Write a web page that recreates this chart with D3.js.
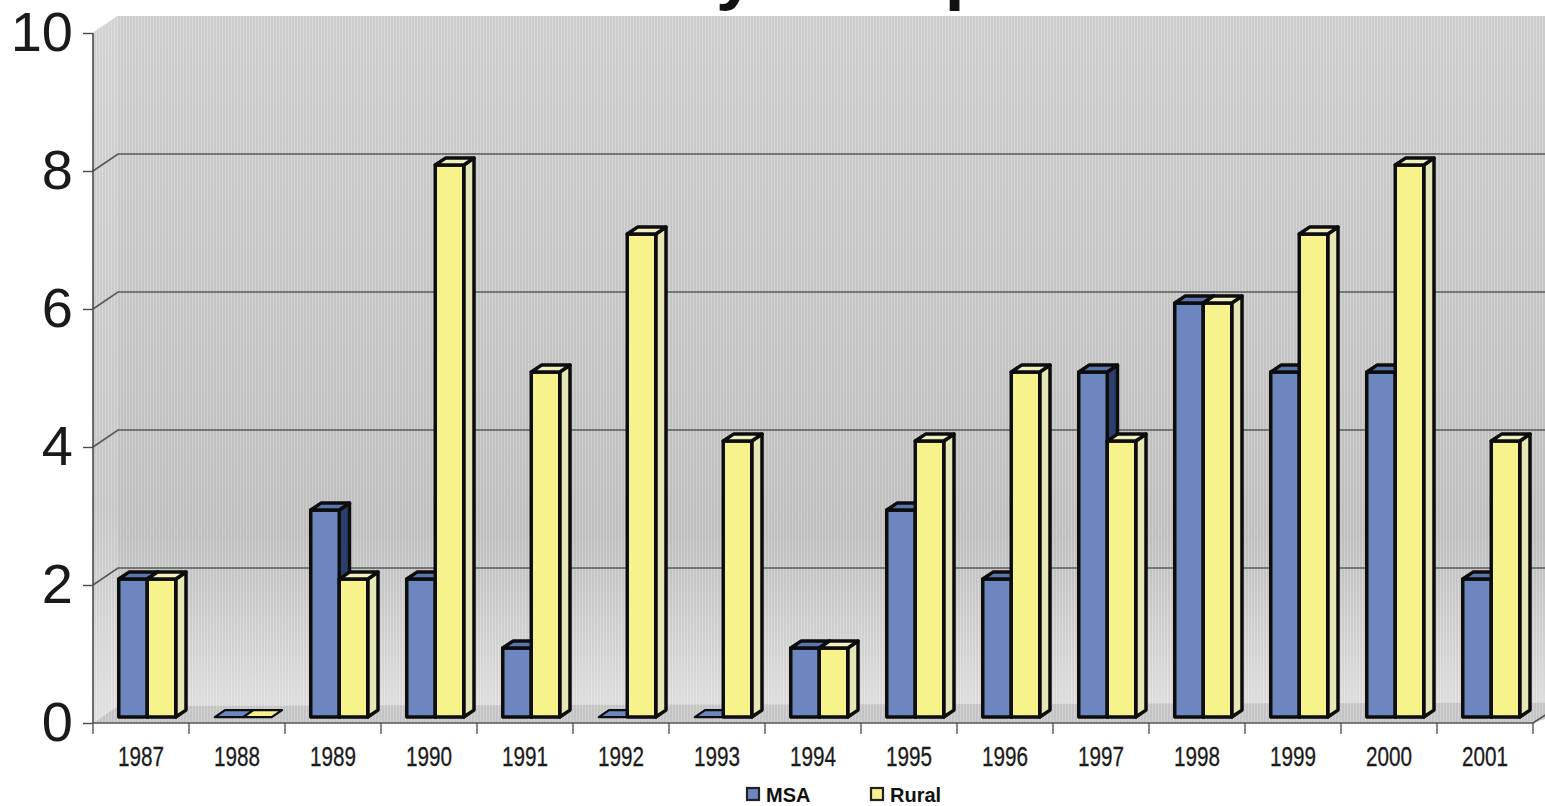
<!DOCTYPE html>
<html>
<head>
<meta charset="utf-8">
<script src="https://cdn.jsdelivr.net/npm/d3@7"></script>
<style>
  html, body { margin: 0; padding: 0; background: #ffffff; }
  svg { display: block; font-family: "Liberation Sans", Arial, sans-serif; }
</style>
</head>
<body>
<svg id="chart" width="1545" height="806"></svg>
<script>
// ---- data ----
const years = ["1987","1988","1989","1990","1991","1992","1993","1994","1995","1996","1997","1998","1999","2000","2001"];
const seriesNames = ["MSA", "Rural"];
const msaValues   = [2, 0, 3, 2, 1, 0, 0, 1, 3, 2, 5, 6, 5, 5, 2];
const ruralValues = [2, 0, 2, 8, 5, 7, 4, 1, 4, 5, 4, 6, 7, 8, 4];
const yTicks = [0, 2, 4, 6, 8, 10];
const chartTitle = "Fatalities by Group";

// ---- layout ----
const W = 1545, H = 806;
const plotL = 93, plotR = 1533, plotB = 723, plotT = 33;
const DX = 25, DY = -17;           // oblique depth of the plot box
const barT0 = 0.35, barT1 = 0.76;  // bar depth within the box

const svg = d3.select("#chart");

const x = d3.scaleBand().domain(years).range([plotL, plotR]).padding(0);
const x1 = d3.scaleBand().domain(seriesNames).range([17, 74]).padding(0);
const y = d3.scaleLinear().domain([0, 10]).range([plotB, plotT]);

// project a front-plane point (xf, value) back by depth fraction t
const P = (xf, v, t) => [xf + DX * t, y(v) + DY * t];
const poly = pts => "M" + pts.map(p => p[0].toFixed(2) + "," + p[1].toFixed(2)).join("L") + "Z";

const defs = svg.append("defs");
const wallGrad = defs.append("linearGradient").attr("id", "wallGrad")
  .attr("x1", 0).attr("y1", 0).attr("x2", 0).attr("y2", 1);
[[0, "#cdcdcd"], [0.45, "#c4c4c4"], [0.75, "#bebebe"], [1, "#dcdcdc"]]
  .forEach(([o, c]) => wallGrad.append("stop").attr("offset", o).attr("stop-color", c));

const sideGrad = defs.append("linearGradient").attr("id", "sideGrad")
  .attr("x1", 0).attr("y1", 0).attr("x2", 0).attr("y2", 1);
[[0, "#d2d2d2"], [0.7, "#c6c6c6"], [1, "#e0e0e0"]]
  .forEach(([o, c]) => sideGrad.append("stop").attr("offset", o).attr("stop-color", c));

// fine vertical grain over the walls
const grain = defs.append("pattern").attr("id", "grain")
  .attr("width", 3).attr("height", 6).attr("patternUnits", "userSpaceOnUse");
grain.append("rect").attr("x", 0).attr("y", 0).attr("width", 1).attr("height", 6)
  .attr("fill", "#ffffff").attr("opacity", 0.25);

// ---- walls and floor ----
const backWall = poly([P(plotL, 10, 1), [W + 10, y(10) + DY], [W + 10, y(0) + DY], P(plotL, 0, 1)]);
svg.append("path").attr("d", backWall).attr("fill", "url(#wallGrad)");
svg.append("path").attr("d", backWall).attr("fill", "url(#grain)");

const sideWall = poly([P(plotL, 0, 0), P(plotL, 10, 0), P(plotL, 10, 1), P(plotL, 0, 1)]);
svg.append("path").attr("d", sideWall).attr("fill", "url(#sideGrad)");
svg.append("path").attr("d", sideWall).attr("fill", "url(#grain)");

const floor = poly([P(plotL, 0, 0), P(plotR, 0, 0), P(plotR + 30, 0, 1.2), P(plotL, 0, 1)]);
svg.append("path").attr("d", floor).attr("fill", "#c4c4c4");
svg.append("path").attr("d", floor).attr("fill", "url(#grain)");

// ---- gridlines ----
svg.append("g").selectAll("path")
  .data(yTicks.filter(v => v > 0 && v < 10))
  .join("path")
  .attr("d", v => {
    const a = P(plotL, v, 0), b = P(plotL, v, 1);
    return `M${a[0]},${a[1]}L${b[0]},${b[1]}L${W + 5},${b[1]}`;
  })
  .attr("fill", "none").attr("stroke", "#565b58").attr("stroke-width", 1.7);

// ---- axes ----
const yAxisG = svg.append("g").attr("transform", `translate(${plotL},0)`)
  .call(d3.axisLeft(y).tickValues(yTicks).tickSize(10).tickFormat(d3.format("d")));
yAxisG.select(".domain").attr("stroke", "#4a4a4a").attr("stroke-width", 1.6)
  .attr("d", `M0,${plotT}V${plotB}`);
yAxisG.selectAll(".tick line").attr("stroke", "#4a4a4a").attr("stroke-width", 1.4);
yAxisG.selectAll(".tick text")
  .attr("x", -20).attr("dy", null).attr("y", 17)
  .attr("font-size", 56).attr("fill", "#1a1a1a")
  .attr("font-family", "'Liberation Sans', Arial, sans-serif");

// top edge of the left wall
svg.append("path").attr("d", `M${P(plotL, 10, 0)}L${P(plotL, 10, 1)}`)
  .attr("stroke", "#d8d8d8").attr("stroke-width", 1);

const xAxisG = svg.append("g").attr("transform", `translate(0,${plotB})`)
  .call(d3.axisBottom(x).tickSize(0).tickFormat(d => d));
xAxisG.select(".domain").remove();
xAxisG.selectAll(".tick text").remove();
svg.append("path")
  .attr("d", `M${plotL},${plotB}L${plotR},${plotB}L${plotR + 14},${plotB - 9}`)
  .attr("fill", "none").attr("stroke", "#555").attr("stroke-width", 1.6);

// tick marks at category boundaries
const bounds = years.map(d => x(d)).concat([plotR]);
svg.append("g").selectAll("line").data(bounds).join("line")
  .attr("x1", d => d).attr("x2", d => d)
  .attr("y1", plotB).attr("y2", plotB + 11)
  .attr("stroke", "#555").attr("stroke-width", 1.4);

// category labels (condensed face)
svg.append("g").selectAll("text").data(years).join("text")
  .attr("transform", d => `translate(${x(d) + x.bandwidth() / 2},766) scale(0.74,1)`)
  .attr("text-anchor", "middle")
  .attr("font-size", 28).attr("fill", "#1a1a1a")
  .attr("stroke", "#1a1a1a").attr("stroke-width", 0.3)
  .text(d => d);

// ---- bars ----
const colors = {
  MSA:   { front: "#6d86bf", top: "#5b76ae", side: "#2c3f6a" },
  Rural: { front: "#f7f28b", top: "#f2f0c0", side: "#e8e6b4" }
};
const barData = [];
years.forEach((yr, i) => {
  barData.push({ year: yr, series: "MSA", value: msaValues[i] });
  barData.push({ year: yr, series: "Rural", value: ruralValues[i] });
});

const bars = svg.append("g").selectAll("g").data(barData).join("g");
const outline = { stroke: "#0d0d0d", sw: 3.5 };

bars.each(function (d) {
  const g = d3.select(this);
  const xl = x(d.year) + x1(d.series);
  const xr = xl + x1.bandwidth();
  const v = d.value;
  const c = colors[d.series];
  if (v > 0) {
    g.append("path")
      .attr("d", poly([P(xr, 0, barT0), P(xr, 0, barT1), P(xr, v, barT1), P(xr, v, barT0)]))
      .attr("fill", c.side).attr("stroke", outline.stroke).attr("stroke-width", outline.sw)
      .attr("stroke-linejoin", "round");
    g.append("path")
      .attr("d", poly([P(xl, 0, barT0), P(xr, 0, barT0), P(xr, v, barT0), P(xl, v, barT0)]))
      .attr("fill", c.front).attr("stroke", outline.stroke).attr("stroke-width", outline.sw)
      .attr("stroke-linejoin", "round");
  }
  g.append("path")
    .attr("d", poly([P(xl, v, barT0), P(xr, v, barT0), P(xr, v, barT1), P(xl, v, barT1)]))
    .attr("fill", v > 0 ? c.top : c.front)
    .attr("stroke", outline.stroke).attr("stroke-width", v > 0 ? outline.sw : 2.2)
    .attr("stroke-linejoin", "round");
});

// ---- title (sits mostly above the visible area) ----
svg.append("text")
  .attr("x", 345).attr("y", -4)
  .attr("font-size", 71).attr("font-weight", "bold").attr("fill", "#111")
  .text(chartTitle);

// ---- legend ----
const legendItems = [
  { name: "MSA", x: 747 },
  { name: "Rural", x: 871 }
];
const lg = svg.append("g").selectAll("g").data(legendItems).join("g")
  .attr("transform", d => `translate(${d.x},788)`);
lg.append("rect").attr("width", 12).attr("height", 12)
  .attr("fill", d => colors[d.name].front)
  .attr("stroke", "#222").attr("stroke-width", 2.2);
lg.append("text").attr("x", 19).attr("y", 14)
  .attr("font-size", 20).attr("font-weight", "bold").attr("fill", "#111")
  .text(d => d.name);
</script>
</body>
</html>
